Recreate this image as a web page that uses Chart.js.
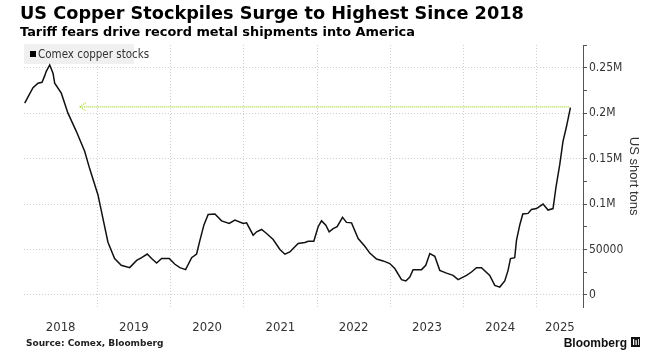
<!DOCTYPE html>
<html>
<head>
<meta charset="utf-8">
<script src="https://cdn.jsdelivr.net/npm/chart.js@4.4.1/dist/chart.umd.min.js"></script>
<style>
  html, body { margin: 0; padding: 0; background: #fff; }
  #wrap { width: 661px; height: 358px; }
</style>
</head>
<body>
<div id="wrap"><canvas id="chart1" width="661" height="358"></canvas></div>
<script>
// Comex copper stocks (x = decimal year, y = US short tons)
let time = [
  2018.01, 2018.055, 2018.123, 2018.191, 2018.246, 2018.282, 2018.304, 2018.351, 2018.396, 2018.419,
  2018.509, 2018.600, 2018.714, 2018.828, 2018.896, 2019.010, 2019.078, 2019.146, 2019.237, 2019.327,
  2019.442, 2019.538, 2019.606, 2019.682, 2019.742, 2019.810, 2019.879, 2019.982, 2020.060, 2020.128,
  2020.206, 2020.288, 2020.356, 2020.401, 2020.456, 2020.514, 2020.606, 2020.697, 2020.801, 2020.879,
  2020.992, 2021.038, 2021.128, 2021.175, 2021.243, 2021.311, 2021.401, 2021.493, 2021.561, 2021.629,
  2021.674, 2021.742, 2021.834, 2021.879, 2021.956, 2022.015, 2022.061, 2022.120, 2022.165, 2022.220,
  2022.274, 2022.348, 2022.402, 2022.471, 2022.561, 2022.652, 2022.720, 2022.812, 2022.902, 2022.993,
  2023.061, 2023.153, 2023.211, 2023.266, 2023.311, 2023.426, 2023.484, 2023.539, 2023.607, 2023.675,
  2023.767, 2023.857, 2023.925, 2024.040, 2024.108, 2024.176, 2024.244, 2024.357, 2024.426, 2024.494,
  2024.562, 2024.607, 2024.640, 2024.698, 2024.722, 2024.767, 2024.808, 2024.880, 2024.926, 2024.995,
  2025.085, 2025.153, 2025.221, 2025.262, 2025.312, 2025.357, 2025.404, 2025.458
];
let stocks = [
  211000, 218000, 228000, 233000, 234000, 241000, 246000, 253000, 244000, 233000,
  222000, 200000, 180000, 158000, 139000, 110000, 84000, 58000, 40000, 32600,
  30000, 38000, 41000, 45000, 40000, 35000, 40000, 40000, 33700, 30000,
  27800, 41000, 45000, 60000, 77000, 88600, 89000, 81500, 78700, 82300,
  78700, 79300, 65700, 69400, 72000, 67600, 61000, 50000, 44800, 47300,
  51000, 56600, 57700, 59000, 59000, 75000, 81500, 76800, 69400, 73000,
  75000, 85300, 79800, 79300, 62000, 53600, 46000, 39500, 37400, 34500,
  29000, 16800, 15300, 19700, 27800, 27800, 32600, 45500, 42500, 27000,
  24000, 21500, 16800, 21500, 25200, 30000, 30000, 21500, 10500, 8600,
  15300, 27000, 40000, 41000, 60000, 77000, 89000, 89700, 94000, 95000,
  100000, 93400, 95000, 119000, 143000, 169000, 185000, 206000
];

let yearLabels = ['2018', '2019', '2020', '2021', '2022', '2023', '2024', '2025'];
let yTickValues = [0, 50000, 100000, 150000, 200000, 250000];
let yTickLabels = ['0', '50000', '0.1M', '0.15M', '0.2M', '0.25M'];

// green arrow back to the mid-2018 level
let refLevel = 207000;
let refFrom = 2018.76;
let refTo = 2025.45;

let xMin = 2018, xMax = 2025.63;
let yMin = -13750, yMax = 275000;

let narrow = '"Liberation Sans Narrow", "DejaVu Sans Condensed", "Liberation Sans", sans-serif';

// legend box sits inside the plot, top left
let legendBox = {
  id: 'legendBox',
  beforeDatasetsDraw(chart) {
    let ctx = chart.ctx;
    ctx.save();
    ctx.fillStyle = '#f0f0f0';
    ctx.fillRect(24, 44, 110, 20);
    ctx.fillStyle = '#000';
    ctx.fillRect(30, 51, 6, 6);
    ctx.fillStyle = '#333';
    ctx.font = '11.5px ' + narrow;
    ctx.textBaseline = 'alphabetic';
    ctx.fillText('Comex copper stocks', 38, 58);
    ctx.restore();
  }
};

// arrow head on the left end of the green line
let arrowHead = {
  id: 'arrowHead',
  afterDatasetsDraw(chart) {
    let p = chart.getDatasetMeta(1).data[0];
    if (!p) return;
    let ctx = chart.ctx;
    ctx.save();
    ctx.strokeStyle = '#b2de4c';
    ctx.lineWidth = 1.3;
    ctx.setLineDash([1, 1]);
    ctx.beginPath();
    ctx.moveTo(p.x + 6, p.y - 4);
    ctx.lineTo(p.x, p.y);
    ctx.lineTo(p.x + 6, p.y + 4);
    ctx.stroke();
    ctx.restore();
  }
};

// headline, source and logo
let texts = {
  id: 'texts',
  afterDraw(chart) {
    let ctx = chart.ctx;
    ctx.save();
    ctx.fillStyle = '#000';
    ctx.textBaseline = 'alphabetic';
    ctx.font = 'bold 17.7px "DejaVu Sans"';
    ctx.fillText('US Copper Stockpiles Surge to Highest Since 2018', 20, 19);
    ctx.font = 'bold 12.9px "DejaVu Sans"';
    ctx.fillText('Tariff fears drive record metal shipments into America', 20, 36);
    ctx.fillStyle = '#222';
    ctx.font = 'bold 9px "DejaVu Sans"';
    ctx.fillText('Source: Comex, Bloomberg', 26, 346);
    ctx.fillStyle = '#111';
    ctx.font = 'bold 12px "Liberation Sans"';
    ctx.textAlign = 'right';
    ctx.fillText('Bloomberg', 627, 347);
    // little terminal logo
    ctx.fillRect(631, 337, 9, 10);
    ctx.fillStyle = '#fff';
    ctx.fillRect(633, 339, 1.2, 6);
    ctx.fillRect(635.5, 340, 1.2, 5);
    ctx.fillRect(638, 339, 0.8, 6);
    ctx.restore();
  }
};

let options = {
  type: 'line',
  data: {
    datasets: [
      {
        label: 'Comex copper stocks',
        data: time.map((t, i) => ({ x: t, y: stocks[i] })),
        borderColor: '#111',
        borderWidth: 1.5,
        pointRadius: 0,
        tension: 0
      },
      {
        label: 'ref',
        data: [{ x: refFrom, y: refLevel }, { x: refTo, y: refLevel }],
        borderColor: '#b2de4c',
        borderWidth: 1.5,
        borderDash: [1, 1],
        pointRadius: 0
      }
    ]
  },
  options: {
    responsive: false,
    animation: false,
    layout: { padding: { top: 45, left: 24, right: 16, bottom: 11 } },
    plugins: { legend: { display: false }, tooltip: { enabled: false } },
    scales: {
      x: {
        type: 'linear',
        min: xMin,
        max: xMax,
        afterBuildTicks: s => { s.ticks = yearLabels.slice(1).map(y => ({ value: +y })); },
        ticks: { display: false },
        grid: { color: '#cfcfcf', drawTicks: false },
        border: { display: false, dash: [1, 2] }
      },
      x2: {
        type: 'linear',
        position: 'bottom',
        min: xMin,
        max: xMax,
        afterBuildTicks: s => {
          s.ticks = yearLabels.map((y, i) => ({
            value: i < yearLabels.length - 1 ? +y + 0.5 : (+y + xMax) / 2
          }));
        },
        ticks: {
          callback: v => String(Math.floor(v)),
          font: { family: narrow, size: 13 },
          color: '#333',
          padding: 12,
          maxRotation: 0,
          autoSkip: false
        },
        grid: { display: false, drawTicks: false },
        border: { display: false }
      },
      y: {
        position: 'right',
        min: yMin,
        max: yMax,
        afterBuildTicks: s => {
          let t = [];
          for (let v = 0; v <= yMax; v += 25000) t.push({ value: v });
          s.ticks = t;
        },
        afterFit: s => { s.width = 62; },
        ticks: {
          callback: v => { let i = yTickValues.indexOf(v); return i < 0 ? '' : yTickLabels[i]; },
          font: { family: narrow, size: 12 },
          color: '#333',
          padding: 2,
          autoSkip: false
        },
        grid: {
          color: c => (c.tick && c.tick.value % 50000 === 0) ? '#cfcfcf' : 'rgba(0,0,0,0)',
          tickColor: '#555',
          tickLength: 4
        },
        border: { display: true, color: '#555', dash: [1, 2] },
        title: {
          display: true,
          text: 'US short tons',
          font: { family: 'Liberation Sans', size: 13 },
          color: '#333',
          padding: { top: 4, bottom: 4 }
        }
      }
    }
  },
  plugins: [legendBox, arrowHead, texts]
};

let chart = new Chart(document.getElementById('chart1'), options);
</script>
</body>
</html>
